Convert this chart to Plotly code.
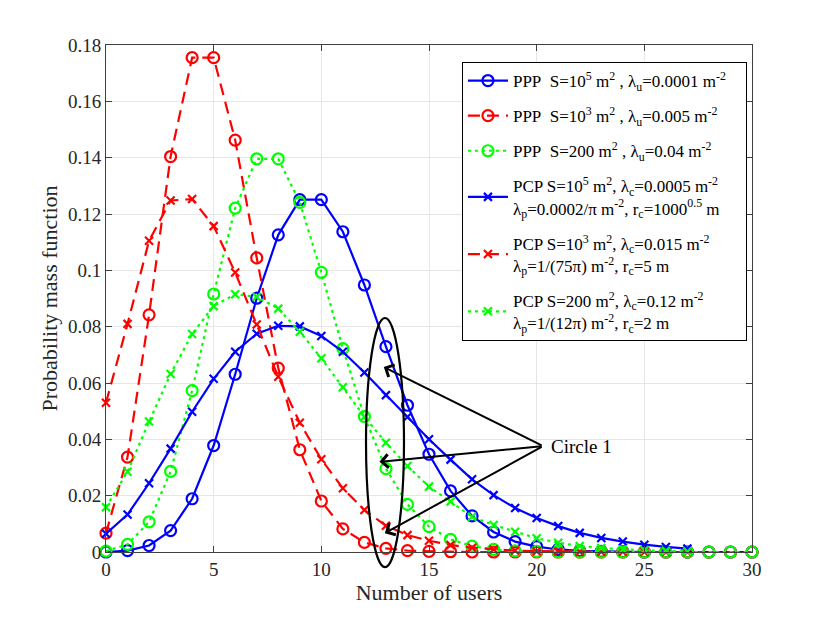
import plotly.graph_objects as go

# number of users
users_ppp = list(range(0, 31))
users_pcp = list(range(0, 28))

# PPP curves
ppp_blue = [0.0000, 0.0005, 0.0023, 0.0076, 0.0189, 0.0378, 0.0631, 0.0901, 0.1126, 0.1251,
            0.1251, 0.1137, 0.0948, 0.0729, 0.0521, 0.0347, 0.0217, 0.0128, 0.0071, 0.0037,
            0.0019, 0.0009, 0.0004, 0.0002, 0.0001, 0.0000, 0.0000, 0.0000, 0.0000, 0.0000, 0.0000]
ppp_red = [0.0067, 0.0337, 0.0842, 0.1404, 0.1755, 0.1755, 0.1462, 0.1044, 0.0653, 0.0363,
           0.0181, 0.0082, 0.0034, 0.0013, 0.0005, 0.0002, 0.0001, 0.0000, 0.0000, 0.0000,
           0.0000, 0.0000, 0.0000, 0.0000, 0.0000, 0.0000, 0.0000, 0.0000, 0.0000, 0.0000, 0.0000]
ppp_green = [0.0003, 0.0027, 0.0107, 0.0286, 0.0573, 0.0916, 0.1221, 0.1396, 0.1396, 0.1241,
             0.0993, 0.0722, 0.0481, 0.0296, 0.0169, 0.0090, 0.0045, 0.0021, 0.0009, 0.0004,
             0.0002, 0.0001, 0.0000, 0.0000, 0.0000, 0.0000, 0.0000, 0.0000, 0.0000, 0.0000, 0.0000]

# PCP curves
pcp_blue = [0.0065, 0.0133, 0.0244, 0.0367, 0.0498, 0.0615, 0.0711, 0.0775, 0.0803, 0.0801,
            0.0767, 0.0711, 0.0637, 0.0557, 0.0479, 0.0400, 0.0328, 0.0258, 0.0202, 0.0156,
            0.0121, 0.0092, 0.0068, 0.0050, 0.0037, 0.0026, 0.0018, 0.0012]
pcp_red = [0.0530, 0.0810, 0.1105, 0.1248, 0.1253, 0.1157, 0.0992, 0.0808, 0.0622, 0.0459,
           0.0329, 0.0226, 0.0149, 0.0093, 0.0060, 0.0040, 0.0025, 0.0015, 0.0009, 0.0005,
           0.0003, 0.0002, 0.0001, 0.0001, 0.0001, 0.0000, 0.0000, 0.0000]
pcp_green = [0.0159, 0.0285, 0.0463, 0.0632, 0.0774, 0.0873, 0.0915, 0.0906, 0.0864, 0.0782,
             0.0688, 0.0585, 0.0480, 0.0388, 0.0305, 0.0232, 0.0179, 0.0125, 0.0096, 0.0072,
             0.0049, 0.0033, 0.0021, 0.0014, 0.0009, 0.0006, 0.0004, 0.0002]

x_ticks = [0, 5, 10, 15, 20, 25, 30]
y_ticks = [0, 0.02, 0.04, 0.06, 0.08, 0.1, 0.12, 0.14, 0.16, 0.18]
y_tick_text = ["0", "0.02", "0.04", "0.06", "0.08", "0.1", "0.12", "0.14", "0.16", "0.18"]

names = [
    "PPP&nbsp; S=10<sup>5</sup> m<sup>2</sup> , λ<sub>u</sub>=0.0001 m<sup>-2</sup>",
    "PPP&nbsp; S=10<sup>3</sup> m<sup>2</sup> , λ<sub>u</sub>=0.005 m<sup>-2</sup>",
    "PPP&nbsp; S=200 m<sup>2</sup> , λ<sub>u</sub>=0.04 m<sup>-2</sup>",
    "PCP S=10<sup>5</sup> m<sup>2</sup>, λ<sub>c</sub>=0.0005 m<sup>-2</sup><br>"
    "λ<sub>p</sub>=0.0002/π m<sup>-2</sup>, r<sub>c</sub>=1000<sup>0.5</sup> m&nbsp;&nbsp;&nbsp;&nbsp;&nbsp;",
    "PCP S=10<sup>3</sup> m<sup>2</sup>, λ<sub>c</sub>=0.015 m<sup>-2</sup><br>"
    "λ<sub>p</sub>=1/(75π) m<sup>-2</sup>, r<sub>c</sub>=5 m",
    "PCP S=200 m<sup>2</sup>, λ<sub>c</sub>=0.12 m<sup>-2</sup><br>"
    "λ<sub>p</sub>=1/(12π) m<sup>-2</sup>, r<sub>c</sub>=2 m",
]

BLUE = "#0000ff"
RED = "#ff0000"
GREEN = "#00ff00"
SERIF = "Liberation Serif, Times New Roman, serif"

series = [
    (users_ppp, ppp_blue, BLUE, "solid", "circle-open", 11),
    (users_ppp, ppp_red, RED, "12px,7px", "circle-open", 11),
    (users_ppp, ppp_green, GREEN, "3px,4px", "circle-open", 11),
    (users_pcp, pcp_blue, BLUE, "solid", "x-thin-open", 8),
    (users_pcp, pcp_red, RED, "12px,7px", "x-thin-open", 8),
    (users_pcp, pcp_green, GREEN, "3px,4px", "x-thin-open", 8),
]

fig = go.Figure()
for i, ((xs, ys, color, dash, symbol, size), name) in enumerate(zip(series, names)):
    fig.add_trace(
        go.Scatter(
            x=xs,
            y=ys,
            name=name,
            legendgroup=f"g{i}",
            mode="lines+markers",
            line=dict(color=color, width=2.2, dash=dash),
            marker=dict(symbol=symbol, size=size, color=color, line=dict(color=color, width=2.2)),
            cliponaxis=False,
        )
    )

# "Circle 1" callout: ellipse + three arrows
fig.add_shape(
    type="circle",
    xref="x domain", yref="y domain",
    x0=0.4025, x1=0.4613, y0=-0.03, y1=0.4615,
    line=dict(color="black", width=2.2),
)
arrow_tail = (20.3, 0.0376)
arrow_heads = [(12.9, 0.0657), (12.7, 0.032), (12.95, 0.0067)]
for hx, hy in arrow_heads:
    fig.add_annotation(
        x=hx, y=hy, ax=arrow_tail[0], ay=arrow_tail[1],
        xref="x", yref="y", axref="x", ayref="y",
        text="", showarrow=True,
        arrowhead=4, arrowsize=1.3, arrowwidth=2, arrowcolor="black",
    )
fig.add_annotation(
    x=20.55, y=0.0376, xref="x", yref="y",
    text="Circle 1", showarrow=False, xanchor="left",
    font=dict(family=SERIF, size=19, color="black"),
)

axis_common = dict(
    showgrid=True,
    gridcolor="#e6e6e6",
    gridwidth=1,
    showline=True,
    linecolor="#404040",
    linewidth=1,
    mirror="ticks",
    ticks="inside",
    ticklen=6,
    tickcolor="#404040",
    zeroline=False,
    tickfont=dict(family=SERIF, size=19, color="#262626"),
)

fig.update_xaxes(
    range=[0, 30],
    tickvals=x_ticks,
    title=dict(text="Number of users", font=dict(family=SERIF, size=22, color="#262626"), standoff=4),
    **axis_common,
)
fig.update_yaxes(
    range=[0, 0.18],
    tickvals=y_ticks,
    ticktext=y_tick_text,
    title=dict(text="Probability mass function", font=dict(family=SERIF, size=22, color="#262626"), standoff=4),
    **axis_common,
)

fig.update_layout(
    width=830,
    height=623,
    paper_bgcolor="white",
    plot_bgcolor="white",
    margin=dict(l=98, r=86, t=37, b=79),
    showlegend=True,
    legend=dict(
        x=0.551, y=0.9665, xanchor="left", yanchor="top",
        bgcolor="white", bordercolor="black", borderwidth=1,
        font=dict(family=SERIF, size=17, color="black"),
        itemwidth=40,
        tracegroupgap=10,
    ),
)

fig.write_html("out.html")
